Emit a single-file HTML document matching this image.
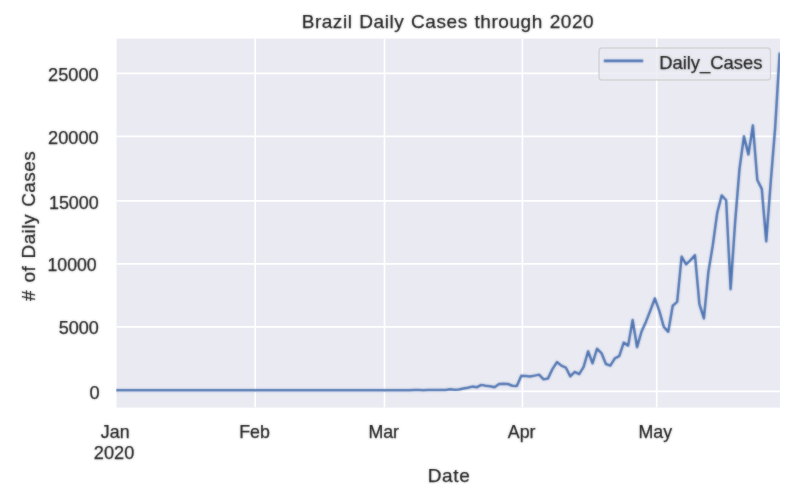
<!DOCTYPE html>
<html lang="en"><head><meta charset="utf-8"><title>Brazil Daily Cases through 2020</title>
<style>html,body{margin:0;padding:0;background:#fff;}body{width:804px;height:498px;overflow:hidden;}svg{display:block;}text{font-family:"Liberation Sans",Arial,sans-serif;fill:#262626;}</style></head><body>
<svg width="804" height="498" viewBox="0 0 804 498">
<defs><clipPath id="ax"><rect x="116.3" y="38.6" width="663.7" height="369.0"/></clipPath><filter id="soft" color-interpolation-filters="sRGB" x="0" y="0" width="804" height="498" filterUnits="userSpaceOnUse"><feGaussianBlur in="SourceGraphic" stdDeviation="1.0" result="b"/><feComposite in="SourceGraphic" in2="b" operator="arithmetic" k1="0" k2="0.45" k3="0.55" k4="0"/></filter><filter id="softt" color-interpolation-filters="sRGB" x="0" y="0" width="804" height="498" filterUnits="userSpaceOnUse"><feGaussianBlur in="SourceGraphic" stdDeviation="1.0" result="b"/><feComposite in="SourceGraphic" in2="b" operator="arithmetic" k1="0" k2="0.6" k3="0.45" k4="0"/></filter></defs>
<rect x="0" y="0" width="804" height="498" fill="#ffffff"/>
<rect x="-5" y="-5" width="814" height="508" fill="#ffffff"/>
<rect x="116.3" y="38.6" width="663.7" height="369.0" fill="#eaeaf2"/>
<g clip-path="url(#ax)" stroke="#ffffff" stroke-width="1.7">
<line x1="115.7" y1="38.6" x2="115.7" y2="407.6"/>
<line x1="255.2" y1="38.6" x2="255.2" y2="407.6"/>
<line x1="384.5" y1="38.6" x2="384.5" y2="407.6"/>
<line x1="522.4" y1="38.6" x2="522.4" y2="407.6"/>
<line x1="656.7" y1="38.6" x2="656.7" y2="407.6"/>
<line x1="116.3" y1="391.4" x2="780.0" y2="391.4"/>
<line x1="116.3" y1="326.9" x2="780.0" y2="326.9"/>
<line x1="116.3" y1="263.9" x2="780.0" y2="263.9"/>
<line x1="116.3" y1="200.9" x2="780.0" y2="200.9"/>
<line x1="116.3" y1="136.4" x2="780.0" y2="136.4"/>
<line x1="116.3" y1="73.3" x2="780.0" y2="73.3"/>
</g>
<g clip-path="url(#ax)" filter="url(#soft)"><polyline fill="none" stroke="#4c72b0" stroke-width="2.5" stroke-linejoin="round" stroke-linecap="square" points="116.00,390.20 120.45,390.20 124.91,390.20 129.36,390.20 133.81,390.20 138.27,390.20 142.72,390.20 147.18,390.20 151.63,390.20 156.08,390.20 160.54,390.20 164.99,390.20 169.44,390.20 173.90,390.20 178.35,390.20 182.81,390.20 187.26,390.20 191.71,390.20 196.17,390.20 200.62,390.20 205.07,390.20 209.53,390.20 213.98,390.20 218.43,390.20 222.89,390.20 227.34,390.20 231.80,390.20 236.25,390.20 240.70,390.20 245.16,390.20 249.61,390.20 254.06,390.20 258.52,390.20 262.97,390.20 267.43,390.20 271.88,390.20 276.33,390.20 280.79,390.20 285.24,390.20 289.69,390.20 294.15,390.20 298.60,390.20 303.06,390.20 307.51,390.20 311.96,390.20 316.42,390.20 320.87,390.20 325.32,390.20 329.78,390.20 334.23,390.20 338.68,390.20 343.14,390.20 347.59,390.20 352.05,390.20 356.50,390.20 360.95,390.20 365.41,390.19 369.86,390.20 374.31,390.20 378.77,390.20 383.22,390.19 387.68,390.20 392.13,390.20 396.58,390.20 401.04,390.19 405.49,390.14 409.94,390.14 414.40,390.12 418.85,390.12 423.30,390.20 427.76,390.09 432.21,389.97 436.67,389.88 441.12,389.93 445.57,389.91 450.03,389.19 454.48,389.77 458.93,389.47 463.39,388.46 467.84,387.74 472.30,386.60 476.75,387.35 481.20,384.88 485.66,385.81 490.11,386.25 494.56,387.25 499.02,384.06 503.47,383.81 507.92,384.00 512.38,385.72 516.83,386.09 521.29,375.71 525.74,375.96 530.19,376.53 534.65,375.61 539.10,374.64 543.55,379.35 548.01,378.41 552.46,369.06 556.92,362.07 561.37,365.63 565.82,367.53 570.28,376.34 574.73,371.84 579.18,374.15 583.64,366.88 588.09,351.27 592.54,363.40 597.00,348.74 601.45,353.07 605.91,364.04 610.36,365.67 614.81,358.40 619.27,356.11 623.72,342.65 628.17,345.61 632.63,320.01 637.08,347.19 641.54,331.48 645.99,321.65 650.44,310.31 654.90,298.31 659.35,311.16 663.80,326.93 668.26,331.79 672.71,305.76 677.17,301.92 681.62,256.50 686.07,264.33 690.53,260.07 694.98,255.12 699.43,304.15 703.89,318.50 708.34,272.35 712.79,245.27 717.25,212.69 721.70,195.37 726.16,200.28 730.61,289.15 735.06,222.93 739.52,168.60 743.97,136.22 748.42,154.59 752.88,125.38 757.33,180.05 761.79,188.90 766.24,241.42 770.69,182.40 775.15,127.97 779.60,53.91"/></g>
<g filter="url(#softt)" stroke="#262626" stroke-width="0.25">
<text x="99.7" y="399.1" font-size="18.2" text-anchor="end">0</text>
<text x="98.7" y="334.1" font-size="18.0" text-anchor="end">5000</text>
<text x="96.7" y="270.8" font-size="17.7" text-anchor="end">10000</text>
<text x="98.7" y="208.7" font-size="17.9" text-anchor="end">15000</text>
<text x="98.7" y="143.7" font-size="18.2" text-anchor="end">20000</text>
<text x="98.7" y="81.3" font-size="18.2" text-anchor="end">25000</text>
<text x="115.2" y="438.1" font-size="17.8" text-anchor="middle">Jan</text>
<text x="254.5" y="438.1" font-size="17.8" text-anchor="middle">Feb</text>
<text x="383.7" y="438.1" font-size="17.8" text-anchor="middle">Mar</text>
<text x="521.7" y="438.1" font-size="17.8" text-anchor="middle">Apr</text>
<text x="655.3" y="438.1" font-size="17.8" text-anchor="middle">May</text>
<text x="114.1" y="459.1" font-size="18.2" text-anchor="middle">2020</text>
<text x="449.0" y="482.0" font-size="19.0" letter-spacing="0.65" text-anchor="middle">Date</text>
<text transform="translate(35.0,225.9) rotate(-90)" font-size="19.0" letter-spacing="0.42" word-spacing="1.7" text-anchor="middle"># of Daily Cases</text>
<text x="447.9" y="28.4" font-size="19.0" letter-spacing="0.55" word-spacing="1.0" text-anchor="middle">Brazil Daily Cases through 2020</text>
</g>
<rect x="599" y="48" width="171.5" height="32" rx="3.2" ry="3.2" fill="#eaeaf2" fill-opacity="0.8" stroke="#cccccc" stroke-opacity="0.75" stroke-width="1.4"/>
<g filter="url(#soft)">
<line x1="603.8" y1="60.8" x2="643.2" y2="60.8" stroke="#4c72b0" stroke-width="2.7" stroke-linecap="butt"/>
</g><text x="659.2" y="69.2" font-size="18.4" filter="url(#softt)" stroke="#262626" stroke-width="0.25">Daily_Cases</text>
</svg></body></html>
